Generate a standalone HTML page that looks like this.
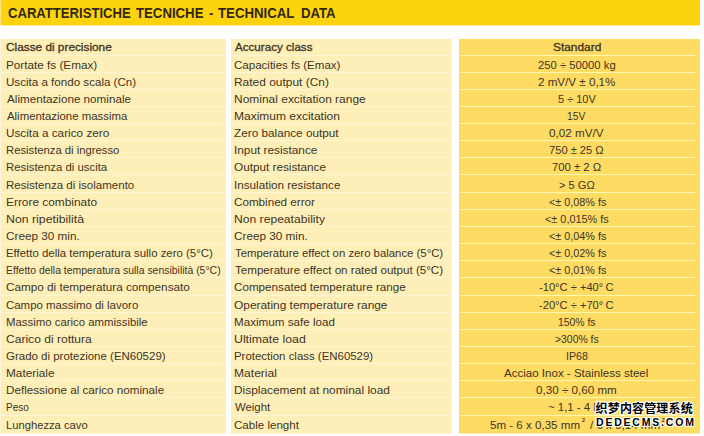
<!DOCTYPE html><html><head><meta charset="utf-8"><title>Technical data</title><style>
html,body{margin:0;padding:0;background:#fff;}
body{width:704px;height:436px;overflow:hidden;position:relative;font-family:"Liberation Sans","Noto Sans CJK SC",sans-serif;}
#ban0{position:absolute;left:0;top:0;width:2px;height:25px;background:#fee784;}
#ban{position:absolute;left:1px;top:0;width:699px;height:25px;background:#fdd30e;border-bottom:1px solid #feec9c;}
.w{position:absolute;top:3.23px;font-size:15.5px;line-height:20px;font-weight:bold;color:#33280f;white-space:nowrap;transform-origin:0 0;}
.c{position:absolute;top:39px;height:394px;}
#c0{left:0;width:2px;background:#fff6da;}
#c1{left:1px;width:225px;background:#feefb9;border-bottom:1px solid #fff5d5;}
#c2{left:231px;width:221px;background:#feefb9;border-bottom:1px solid #fff5d5;}
#c3{left:459px;width:241px;background:#fedb63;border-bottom:1px solid #ffefb8;}
.s{position:absolute;height:1px;}
.sa{left:1px;width:225px;background:#fff5d3;}
.sb{left:231px;width:221px;background:#fff5d3;}
.sc{left:460px;width:235px;background:#fffab0;}
.t{position:absolute;font-size:11px;line-height:14px;color:#3f3424;white-space:nowrap;transform-origin:0 0;}
.sp{font-size:5.5px;-webkit-text-stroke:0.2px #3f3424;}
.t sup{font-size:5.5px;line-height:0;vertical-align:7.5px;margin:0 1px 0 2px;-webkit-text-stroke:0.2px #3f3424;}
.b{-webkit-text-stroke:0.3px #3f3424;}
.wm{position:absolute;left:596px;color:#000;font-weight:bold;white-space:nowrap;transform-origin:0 0;text-shadow:1px 0 #fff,-1px 0 #fff,0 1px #fff,0 -1px #fff,1px 1px #fff,-1px -1px #fff,1px -1px #fff,-1px 1px #fff;}
#wm1{top:400px;left:595.6px;font-size:12px;line-height:18px;letter-spacing:.15px;}
#wm2{top:413px;font-size:10.5px;line-height:18px;letter-spacing:1.8px;}
</style></head><body>
<div id="ban0"></div><div id="ban"></div>
<div class="w" style="left:7.69px;transform:scaleX(0.8445)">CARATTERISTICHE</div>
<div class="w" style="left:136.30px;transform:scaleX(0.8513)">TECNICHE</div>
<div class="w" style="left:209.40px;transform:scaleX(0.8258)">-</div>
<div class="w" style="left:218.30px;transform:scaleX(0.8535)">TECHNICAL</div>
<div class="w" style="left:300.88px;transform:scaleX(0.8484)">DATA</div>
<div class="c" id="c0"></div><div class="c" id="c1"></div><div class="c" id="c2"></div><div class="c" id="c3"></div>
<div class="s sa" style="top:55px"></div>
<div class="s sb" style="top:55px"></div>
<div class="s sc" style="top:55px"></div>
<div class="s sa" style="top:72px"></div>
<div class="s sb" style="top:72px"></div>
<div class="s sc" style="top:72px"></div>
<div class="s sa" style="top:89px"></div>
<div class="s sb" style="top:89px"></div>
<div class="s sc" style="top:89px"></div>
<div class="s sa" style="top:106px"></div>
<div class="s sb" style="top:106px"></div>
<div class="s sc" style="top:106px"></div>
<div class="s sa" style="top:123px"></div>
<div class="s sb" style="top:123px"></div>
<div class="s sc" style="top:123px"></div>
<div class="s sa" style="top:140px"></div>
<div class="s sb" style="top:140px"></div>
<div class="s sc" style="top:140px"></div>
<div class="s sa" style="top:157px"></div>
<div class="s sb" style="top:157px"></div>
<div class="s sc" style="top:157px"></div>
<div class="s sa" style="top:174px"></div>
<div class="s sb" style="top:174px"></div>
<div class="s sc" style="top:174px"></div>
<div class="s sa" style="top:192px"></div>
<div class="s sb" style="top:192px"></div>
<div class="s sc" style="top:192px"></div>
<div class="s sa" style="top:209px"></div>
<div class="s sb" style="top:209px"></div>
<div class="s sc" style="top:209px"></div>
<div class="s sa" style="top:226px"></div>
<div class="s sb" style="top:226px"></div>
<div class="s sc" style="top:226px"></div>
<div class="s sa" style="top:243px"></div>
<div class="s sb" style="top:243px"></div>
<div class="s sc" style="top:243px"></div>
<div class="s sa" style="top:260px"></div>
<div class="s sb" style="top:260px"></div>
<div class="s sc" style="top:260px"></div>
<div class="s sa" style="top:277px"></div>
<div class="s sb" style="top:277px"></div>
<div class="s sc" style="top:277px"></div>
<div class="s sa" style="top:295px"></div>
<div class="s sb" style="top:295px"></div>
<div class="s sc" style="top:295px"></div>
<div class="s sa" style="top:312px"></div>
<div class="s sb" style="top:312px"></div>
<div class="s sc" style="top:312px"></div>
<div class="s sa" style="top:329px"></div>
<div class="s sb" style="top:329px"></div>
<div class="s sc" style="top:329px"></div>
<div class="s sa" style="top:346px"></div>
<div class="s sb" style="top:346px"></div>
<div class="s sc" style="top:346px"></div>
<div class="s sa" style="top:363px"></div>
<div class="s sb" style="top:363px"></div>
<div class="s sc" style="top:363px"></div>
<div class="s sa" style="top:380px"></div>
<div class="s sb" style="top:380px"></div>
<div class="s sc" style="top:380px"></div>
<div class="s sa" style="top:397px"></div>
<div class="s sb" style="top:397px"></div>
<div class="s sc" style="top:397px"></div>
<div class="s sa" style="top:415px"></div>
<div class="s sb" style="top:415px"></div>
<div class="s sc" style="top:415px"></div>
<div class="t b" style="left:6.15px;top:40.00px;transform:scaleX(1.074)">Classe di precisione</div>
<div class="t b" style="left:234.70px;top:40.00px;transform:scaleX(1.056)">Accuracy class</div>
<div class="t b" style="left:552.73px;top:40.00px;transform:scaleX(1.081)">Standard</div>
<div class="t" style="left:5.78px;top:58.00px;transform:scaleX(1.066)">Portate fs (Emax)</div>
<div class="t" style="left:234.16px;top:58.00px;transform:scaleX(1.049)">Capacities fs (Emax)</div>
<div class="t" style="left:538.27px;top:58.00px;transform:scaleX(1.025)">250 ÷ 50000 kg</div>
<div class="t" style="left:5.98px;top:75.00px;transform:scaleX(1.054)">Uscita a fondo scala (Cn)</div>
<div class="t" style="left:233.77px;top:75.00px;transform:scaleX(1.085)">Rated output (Cn)</div>
<div class="t" style="left:538.26px;top:75.00px;transform:scaleX(1.056)">2 mV/V ± 0,1%</div>
<div class="t" style="left:6.70px;top:92.00px;transform:scaleX(1.062)">Alimentazione nominale</div>
<div class="t" style="left:233.76px;top:92.00px;transform:scaleX(1.088)">Nominal excitation range</div>
<div class="t" style="left:557.76px;top:92.00px;transform:scaleX(0.999)">5 ÷ 10V</div>
<div class="t" style="left:6.70px;top:109.00px;transform:scaleX(1.035)">Alimentazione massima</div>
<div class="t" style="left:233.76px;top:109.00px;transform:scaleX(1.090)">Maximum excitation</div>
<div class="t" style="left:567.36px;top:109.00px;transform:scaleX(0.935)">15V</div>
<div class="t" style="left:5.97px;top:126.00px;transform:scaleX(1.069)">Uscita a carico zero</div>
<div class="t" style="left:234.33px;top:126.00px;transform:scaleX(1.069)">Zero balance output</div>
<div class="t" style="left:549.44px;top:126.00px;transform:scaleX(1.061)">0,02 mV/V</div>
<div class="t" style="left:5.82px;top:143.00px;transform:scaleX(1.024)">Resistenza di ingresso</div>
<div class="t" style="left:233.78px;top:143.00px;transform:scaleX(1.074)">Input resistance</div>
<div class="t" style="left:549.28px;top:143.00px;transform:scaleX(1.012)">750 ± 25 Ω</div>
<div class="t" style="left:5.81px;top:160.00px;transform:scaleX(1.034)">Resistenza di uscita</div>
<div class="t" style="left:234.15px;top:160.00px;transform:scaleX(1.067)">Output resistance</div>
<div class="t" style="left:551.87px;top:160.00px;transform:scaleX(1.024)">700 ± 2 Ω</div>
<div class="t" style="left:5.80px;top:178.00px;transform:scaleX(1.049)">Resistenza di isolamento</div>
<div class="t" style="left:233.79px;top:178.00px;transform:scaleX(1.061)">Insulation resistance</div>
<div class="t" style="left:559.18px;top:178.00px;transform:scaleX(1.009)">> 5 GΩ</div>
<div class="t" style="left:5.77px;top:195.00px;transform:scaleX(1.080)">Errore combinato</div>
<div class="t" style="left:234.15px;top:195.00px;transform:scaleX(1.059)">Combined error</div>
<div class="t" style="left:548.59px;top:195.00px;transform:scaleX(0.983)"><± 0,08% fs</div>
<div class="t" style="left:5.74px;top:212.00px;transform:scaleX(1.119)">Non ripetibilità</div>
<div class="t" style="left:233.75px;top:212.00px;transform:scaleX(1.102)">Non repeatability</div>
<div class="t" style="left:545.29px;top:212.00px;transform:scaleX(0.988)"><± 0,015% fs</div>
<div class="t" style="left:6.15px;top:229.00px;transform:scaleX(1.067)">Creep 30 min.</div>
<div class="t" style="left:234.15px;top:229.00px;transform:scaleX(1.067)">Creep 30 min.</div>
<div class="t" style="left:548.59px;top:229.00px;transform:scaleX(0.983)"><± 0,04% fs</div>
<div class="t" style="left:5.81px;top:246.00px;transform:scaleX(1.038)">Effetto della temperatura sullo zero (5°C)</div>
<div class="t" style="left:234.52px;top:246.00px;transform:scaleX(1.032)">Temperature effect on zero balance (5°C)</div>
<div class="t" style="left:548.59px;top:246.00px;transform:scaleX(0.983)"><± 0,02% fs</div>
<div class="t" style="left:5.88px;top:263.00px;transform:scaleX(0.949)">Effetto della temperatura sulla sensibilità (5°C)</div>
<div class="t" style="left:234.52px;top:263.00px;transform:scaleX(1.054)">Temperature effect on rated output (5°C)</div>
<div class="t" style="left:548.59px;top:263.00px;transform:scaleX(0.983)"><± 0,01% fs</div>
<div class="t" style="left:6.15px;top:280.00px;transform:scaleX(1.066)">Campo di temperatura compensato</div>
<div class="t" style="left:234.15px;top:280.00px;transform:scaleX(1.060)">Compensated temperature range</div>
<div class="t" style="left:539.45px;top:280.00px;transform:scaleX(1.013)">-10°C ÷ +40° C</div>
<div class="t" style="left:6.16px;top:298.00px;transform:scaleX(1.040)">Campo massimo di lavoro</div>
<div class="t" style="left:234.14px;top:298.00px;transform:scaleX(1.082)">Operating temperature range</div>
<div class="t" style="left:539.45px;top:298.00px;transform:scaleX(1.013)">-20°C ÷ +70° C</div>
<div class="t" style="left:5.81px;top:315.00px;transform:scaleX(1.035)">Massimo carico ammissibile</div>
<div class="t" style="left:233.79px;top:315.00px;transform:scaleX(1.058)">Maximum safe load</div>
<div class="t" style="left:558.35px;top:315.00px;transform:scaleX(0.945)">150% fs</div>
<div class="t" style="left:6.13px;top:332.00px;transform:scaleX(1.096)">Carico di rottura</div>
<div class="t" style="left:233.93px;top:332.00px;transform:scaleX(1.118)">Ultimate load</div>
<div class="t" style="left:555.31px;top:332.00px;transform:scaleX(0.945)">>300% fs</div>
<div class="t" style="left:6.16px;top:349.00px;transform:scaleX(1.044)">Grado di protezione (EN60529)</div>
<div class="t" style="left:233.81px;top:349.00px;transform:scaleX(1.039)">Protection class (EN60529)</div>
<div class="t" style="left:565.57px;top:349.00px;transform:scaleX(0.966)">IP68</div>
<div class="t" style="left:5.78px;top:366.00px;transform:scaleX(1.072)">Materiale</div>
<div class="t" style="left:233.76px;top:366.00px;transform:scaleX(1.098)">Material</div>
<div class="t" style="left:504.20px;top:366.00px;transform:scaleX(1.049)">Acciao Inox - Stainless steel</div>
<div class="t" style="left:5.79px;top:383.00px;transform:scaleX(1.060)">Deflessione al carico nominale</div>
<div class="t" style="left:233.77px;top:383.00px;transform:scaleX(1.080)">Displacement at nominal load</div>
<div class="t" style="left:536.14px;top:383.00px;transform:scaleX(1.058)">0,30 ÷ 0,60 mm</div>
<div class="t" style="left:5.92px;top:400.00px;transform:scaleX(0.909)">Peso</div>
<div class="t" style="left:234.70px;top:400.00px;transform:scaleX(1.033)">Weight</div>
<div class="t" style="left:548.44px;top:400.00px;transform:scaleX(1.037)">~ 1,1 - 4 kg</div>
<div class="t" style="left:5.82px;top:418.00px;transform:scaleX(1.019)">Lunghezza cavo</div>
<div class="t" style="left:234.16px;top:418.00px;transform:scaleX(1.051)">Cable lenght</div>
<div class="t" style="left:490.24px;top:418.00px;transform:scaleX(1.052)">5m - 6 x 0,35 mm</div>
<div class="t sp" style="left:582.0px;top:412.60px">2</div>
<div class="t" style="left:590.00px;top:418.00px;transform:scaleX(1.052)">/ 6 x 0,14 mm</div>
<div class="t sp" style="left:661.8px;top:412.60px">2</div>
<div class="wm" id="wm1">织梦内容管理系统</div><div class="wm" id="wm2">DEDECMS.COM</div>
</body></html>
